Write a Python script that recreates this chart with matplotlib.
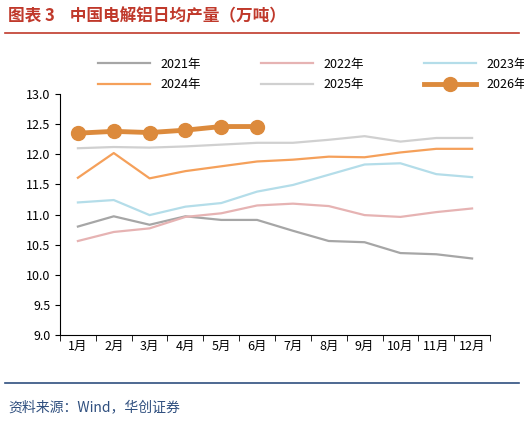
import matplotlib
matplotlib.use("Agg")
import matplotlib.pyplot as plt

plt.rcParams['font.family'] = ['Noto Sans CJK SC', 'DejaVu Sans']

months = ['1月','2月','3月','4月','5月','6月','7月','8月','9月','10月','11月','12月']
y2021 = [10.80,10.97,10.83,10.97,10.91,10.91,10.73,10.56,10.54,10.36,10.34,10.27]
y2022 = [10.56,10.71,10.77,10.96,11.02,11.15,11.18,11.14,10.99,10.96,11.04,11.10]
y2023 = [11.20,11.24,10.99,11.13,11.19,11.38,11.49,11.66,11.83,11.85,11.67,11.62]
y2024 = [11.61,12.02,11.60,11.72,11.80,11.88,11.91,11.96,11.95,12.03,12.09,12.09]
y2025 = [12.10,12.12,12.11,12.13,12.16,12.19,12.19,12.24,12.30,12.21,12.27,12.27]
y2026 = [12.35,12.38,12.36,12.40,12.46,12.46]

fig = plt.figure(figsize=(5.24,4.22), dpi=100)
ax = fig.add_axes([60/524, 1-335/422, 430/524, 241/422])
x = list(range(12))
l1, = ax.plot(x, y2021, color='#a6a6a6', lw=1.6, label='2021年')
l2, = ax.plot(x, y2022, color='#e6b3b3', lw=1.6, label='2022年')
l3, = ax.plot(x, y2023, color='#b4dde9', lw=1.6, label='2023年')
l4, = ax.plot(x, y2024, color='#f5a05a', lw=1.6, label='2024年')
l5, = ax.plot(x, y2025, color='#d0d0d0', lw=1.6, label='2025年')
l6, = ax.plot(x[:6], y2026, color='#dc8a3c', lw=3.5, marker='o', ms=10, label='2026年')
ax.set_ylim(9.0, 13.0)
ax.set_xlim(-0.5, 11.5)
ax.set_yticks([9.0+0.5*i for i in range(9)])
ax.set_yticklabels([f'{9.0+0.5*i:.1f}' for i in range(9)], fontsize=9)
ax.set_xticks(x)
ax.set_xticklabels(months, fontsize=9)
ax.set_xticks([i-0.5 for i in range(13)], minor=True)
ax.tick_params(axis='x', which='major', length=0)
ax.tick_params(axis='x', which='minor', length=4)
for s in ['top','right']:
    ax.spines[s].set_visible(False)
handles = [l1, l4, l2, l5, l3, l6]
fig.legend(handles, [h.get_label() for h in handles], loc='upper left',
           bbox_to_anchor=(0.165, 0.89), ncol=3, frameon=False,
           fontsize=9, handlelength=4.2, columnspacing=4.8, labelspacing=0.6)
fig.text(0.015, 0.962, '图表 3    中国电解铝日均产量（万吨）', fontsize=12, fontweight='bold',
         color='#c0392b', va='center')
fig.add_artist(plt.Line2D([0.01,0.99],[0.922,0.922], color='#c0392b', lw=1.2))
fig.add_artist(plt.Line2D([0.01,0.99],[0.093,0.093], color='#2f4f7f', lw=1.2))
fig.text(0.015, 0.035, '资料来源：Wind，华创证券', fontsize=10, style='italic', color='#2f4f7f', va='center')
fig.savefig('out.png', dpi=100)
